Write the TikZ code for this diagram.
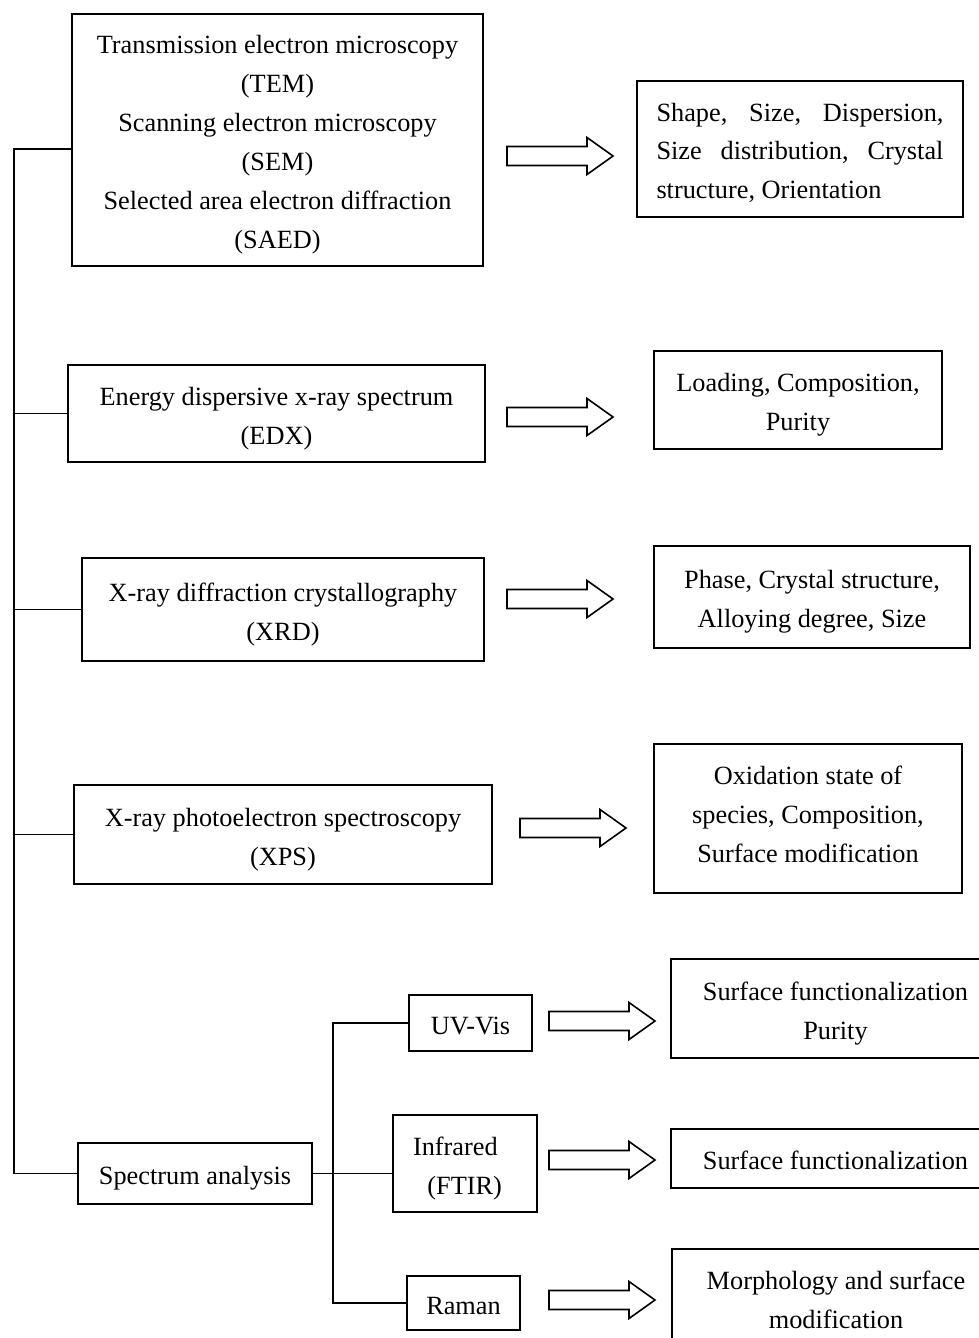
\documentclass[tikz,border=0pt]{standalone}
\usepackage{fontspec}
\setmainfont{Liberation Serif}
\usetikzlibrary{positioning}

% struts for first and last text lines
\newcommand{\sT}{\rule{0pt}{14.5pt}}
\newcommand{\sB}{\rule[-3.5pt]{0pt}{3.5pt}}
\newcommand{\sBB}{\rule[-10pt]{0pt}{10pt}}

\tikzset{
	box/.style={draw, line width=0.8pt, align=center, inner sep=0pt, font=\fontsize{13.15}{19.5}\selectfont},
	line/.style={line width=0.8pt},
	fatarrow/.style={line width=0.8pt}
}

\begin{document}
\begin{tikzpicture}[x=0.5pt, y=-0.5pt]
	\useasboundingbox (0,0) rectangle (979,1338);
	% methods
	\node[box, minimum width=205.5pt, minimum height=126pt] (tem) at (277.5,140) {\sT Transmission electron microscopy\\(TEM)\\Scanning electron microscopy\\(SEM)\\Selected area electron diffraction\\(SAED)\sB};
	\node[box, minimum width=208.5pt, minimum height=48.5pt] (edx) at (276.5,413.5) {\sT Energy dispersive x-ray spectrum\\(EDX)\sB};
	\node[box, minimum width=201pt, minimum height=51.5pt] (xrd) at (283,609.5) {\sT X-ray diffraction crystallography\\(XRD)\sB};
	\node[box, minimum width=209pt, minimum height=49.5pt] (xps) at (283,834.5) {\sT X-ray photoelectron spectroscopy\\(XPS)\sB};
	\node[box, minimum width=117pt, minimum height=30.5pt] (spec) at (195,1173.5) {\sT Spectrum analysis\sB};
	\node[box, minimum width=61.5pt, minimum height=28pt] (uvvis) at (470.5,1023) {\sT UV-Vis\sB};
	\node[box, minimum width=72pt, minimum height=48.5pt, align=left] (ir) at (465,1163.5) {\sT Infrared\\\hspace{0.55em}(FTIR)\hspace*{7.5pt}\sB};
	\node[box, minimum width=56.5pt, minimum height=27pt] (raman) at (463.5,1303) {\sT Raman\sB};
	% results
	\node[box, minimum width=163pt, minimum height=68pt, text width=143.5pt, align=justify] (shape) at (800,149) {\sT Shape,\hfill Size,\hfill Dispersion,\\Size\hfill distribution,\hfill Crystal\\structure, Orientation\sB};
	\node[box, minimum width=144pt, minimum height=49pt] (load) at (798,400) {\sT Loading, Composition,\\Purity\sB};
	\node[box, minimum width=158pt, minimum height=51pt] (phase) at (812,597) {\sT Phase, Crystal structure,\\Alloying degree, Size\sB};
	\node[box, minimum width=154pt, minimum height=74.5pt] (oxid) at (808,818.5) {\sT Oxidation state of\\species, Composition,\\Surface modification\sBB};
	\node[box, minimum width=164.5pt, minimum height=49.5pt] (sfp) at (835.5,1008.5) {\sT Surface functionalization\\Purity\sB};
	\node[box, minimum width=164.5pt, minimum height=29.5pt] (sf) at (835.5,1158.5) {\sT Surface functionalization\sB};
	\node[box, minimum width=164pt, minimum height=48.5pt] (morph) at (836,1297.5) {\sT Morphology and surface\\modification\sB};
	% bus lines
	\coordinate (b1) at (14,149);
	\coordinate (c1) at (333,1028);
	\draw[line] ([yshift=-4.5pt]tem.west) -- (b1) -- (b1 |- spec.west) -- (spec.west);
	\foreach \n in {edx, xrd, xps}
		\draw[line] (\n.west) -- (\n.west -| b1);
	\draw[line] (uvvis.west) -- (uvvis.west -| c1) -- (raman.west -| c1) -- (raman.west);
	\draw[line] (spec.east) -- (spec.east -| ir.west);
	% block arrows
	\foreach \x/\y in {507/156, 507/417, 507/599, 520/828, 549/1021, 549/1160, 549/1300}
		\draw[fatarrow] (\x,\y-9.5) -- ++(80,0) -- ++(0,-9) -- ++(26,18.5) -- ++(-26,18.5) -- ++(0,-9) -- ++(-80,0) -- cycle;
\end{tikzpicture}
\end{document}
